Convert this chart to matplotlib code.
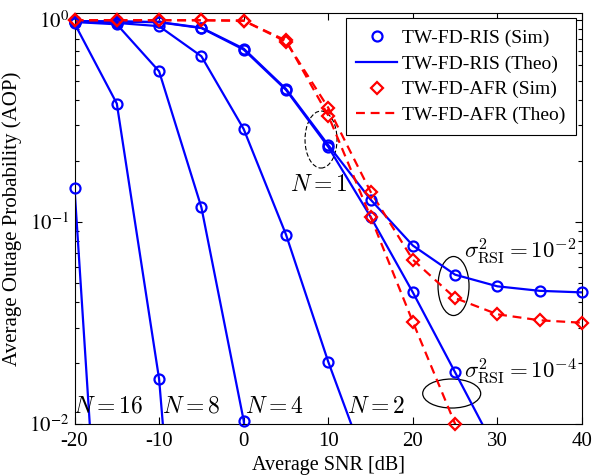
import numpy as np
import matplotlib
matplotlib.use('Agg')
import matplotlib.pyplot as plt
from matplotlib.lines import Line2D
from matplotlib.patches import Ellipse

plt.rcParams['font.family'] = 'Liberation Serif'
plt.rcParams['mathtext.fontset'] = 'stix'

# SNR grid [dB]
snr = np.array([-20, -15, -10, -5, 0, 5, 10, 15, 20, 25, 30, 35, 40])
nan = np.nan

# TW-FD-RIS outage probability for different numbers of elements N
ris_n16 = [0.147, 8.5e-5, nan, nan, nan, nan, nan, nan, nan, nan, nan, nan, nan]
ris_n8 = [0.96, 0.385, 0.0167, 5e-5, nan, nan, nan, nan, nan, nan, nan, nan, nan]
ris_n4 = [0.975, 0.95, 0.556, 0.118, 0.0104, 1e-4, nan, nan, nan, nan, nan, nan, nan]
ris_n2 = [0.98, 0.965, 0.93, 0.66, 0.288, 0.0866, 0.0203, 0.0055, nan, nan, nan, nan, nan]
ris_n1_rsi2 = [0.985, 0.982, 0.975, 0.914, 0.72, 0.455, 0.24, 0.129, 0.0764, 0.0548, 0.048, 0.0456, 0.0448]
ris_n1_rsi4 = [0.985, 0.98, 0.972, 0.91, 0.712, 0.45, 0.235, 0.106, 0.0448, 0.018, 0.0072, 0.003, 0.0013]

# TW-FD-AFR outage probability
afr_rsi2 = [0.995, 0.995, 0.995, 0.995, 0.99, 0.78, 0.367, 0.141, 0.065, 0.042, 0.0349, 0.0326, 0.0317]
afr_rsi4 = [0.995, 0.995, 0.995, 0.995, 0.99, 0.79, 0.336, 0.106, 0.032, 0.01, 0.002, 4e-4, 1e-4]

BLUE = (0, 0, 1)
RED = (1, 0, 0)
LW = 1.6

fig = plt.figure(figsize=(5.98, 4.76), dpi=100)
ax = fig.add_axes([0.1246, 0.1092, 0.8487, 0.8634])
ax.set_yscale('log')


def visible(vals):
    v = np.array(vals, dtype=float)
    return np.where(v >= 0.0099, v, np.nan)


for curve in [ris_n16, ris_n8, ris_n4, ris_n2, ris_n1_rsi2, ris_n1_rsi4]:
    ax.plot(snr, curve, '-', color=BLUE, lw=LW)
    ax.plot(snr, visible(curve), 'o', color=BLUE, mfc='none', ms=7.2, mew=1.6,
            clip_on=False, zorder=4)

for curve in [afr_rsi2, afr_rsi4]:
    ax.plot(snr, curve, color=RED, lw=LW, dashes=(4, 2.6))
    ax.plot(snr, visible(curve), 'D', color=RED, mfc='none', ms=6.0, mew=1.6,
            clip_on=False, zorder=4)

ax.set_xlim(-20, 40)
ax.set_ylim(1e-2, 1.08)
ax.set_xticks([-20, -10, 0, 10, 20, 30, 40])
ax.set_xticklabels(['-20', '-10', '0', '10', '20', '30', '40'], fontsize=15)
ax.set_yticks([1e-2, 1e-1, 1])
ax.set_yticklabels([r'$10^{-2}$', r'$10^{-1}$', r'$10^{0}$'], fontsize=15)
ax.tick_params(which='both', direction='in', top=True, right=True, width=0.8)
ax.tick_params(which='major', length=5)
ax.tick_params(which='minor', length=3)
ax.tick_params(axis='x', pad=6)
ax.tick_params(axis='y', pad=4)
for s in ax.spines.values():
    s.set_linewidth(0.8)

ax.set_xlabel('Average SNR [dB]', fontsize=14.5, labelpad=3)
ax.set_ylabel('Average Outage Probability (AOP)', fontsize=15, labelpad=5)

# Curve annotations
tkw = dict(fontsize=17, math_fontfamily='cm', ha='center', va='center')
ax.text(-16.0, 0.0121, r'$N=16$', **tkw)
ax.text(-6.2, 0.0121, r'$N=8$', **tkw)
ax.text(3.6, 0.0121, r'$N=4$', **tkw)
ax.text(15.6, 0.0121, r'$N=2$', **tkw)
ax.text(8.85, 0.152, r'$N=1$', **tkw)
ax.text(26.1, 0.071, r'$\sigma^2_{\rm RSI}=10^{-2}$', fontsize=16.5,
        math_fontfamily='cm', ha='left', va='center')
ax.text(26.1, 0.018, r'$\sigma^2_{\rm RSI}=10^{-4}$', fontsize=16.5,
        math_fontfamily='cm', ha='left', va='center')

ax.add_patch(Ellipse((0.4857, 0.6922), 0.063, 0.1387, transform=ax.transAxes,
                     fill=False, ec='k', lw=0.8, ls=(0, (4, 2))))
ax.add_patch(Ellipse((0.7468, 0.3358), 0.0611, 0.1436, transform=ax.transAxes,
                     fill=False, ec='k', lw=0.9))
ax.add_patch(Ellipse((0.7432, 0.0742), 0.1143, 0.0706, transform=ax.transAxes,
                     fill=False, ec='k', lw=0.9))

handles = [
    Line2D([], [], ls='none', marker='o', color=BLUE, mfc='none', ms=7.2, mew=1.6),
    Line2D([], [], ls='-', color=BLUE, lw=LW),
    Line2D([], [], ls='none', marker='D', color=RED, mfc='none', ms=6.0, mew=1.6),
    Line2D([], [], color=RED, lw=LW, dashes=(4, 2.6)),
]
labels = ['TW-FD-RIS (Sim)', 'TW-FD-RIS (Theo)', 'TW-FD-AFR (Sim)', 'TW-FD-AFR (Theo)']
leg = ax.legend(handles, labels, loc='upper right', bbox_to_anchor=(0.9882, 0.9871),
                borderaxespad=0, fontsize=14, handlelength=2.1, handletextpad=0.25,
                labelspacing=0.42, borderpad=0.55, fancybox=False, framealpha=1)
leg.get_frame().set_edgecolor('k')
leg.get_frame().set_linewidth(0.8)

fig.savefig('out.png', dpi=100)
